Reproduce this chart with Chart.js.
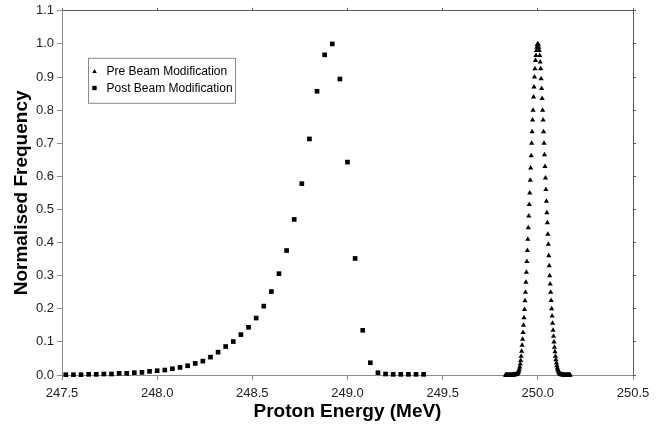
<!DOCTYPE html>
<html><head><meta charset="utf-8">
<script src="https://cdn.jsdelivr.net/npm/chart.js@4.4.0/dist/chart.umd.min.js"></script>
<style>html,body{margin:0;padding:0;background:#fff;overflow:hidden}canvas{display:block}</style>
</head><body>
<canvas id="c" width="658" height="427" style="width:658px;height:427px"></canvas>
<script>
// ---- data ----
const preLabel = 'Pre Beam Modification';
const postLabel = 'Post Beam Modification';

const preEnergy = [
249.83,249.8325,249.835,249.8375,249.84,249.8425,249.845,249.8475,249.85,249.8525,249.855,249.8575,249.86,249.8625,249.865,249.8675,249.87,249.8725,249.875,249.8775,
249.88,249.8825,249.885,249.8875,249.89,249.8925,249.895,249.8975,249.9,249.9025,249.905,249.9075,249.91,249.9125,249.915,249.9175,249.92,249.9225,249.925,249.9275,
249.93,249.9325,249.935,249.9375,249.94,249.9425,249.945,249.9475,249.95,249.9525,249.955,249.9575,249.96,249.9625,249.965,249.9675,249.97,249.9725,249.975,249.9775,
249.98,249.9825,249.985,249.9875,249.99,249.9925,249.995,249.9975,250,
250.0025,250.005,250.0075,250.01,250.0125,250.015,250.0175,250.02,250.0225,250.025,250.0275,250.03,250.0325,250.035,250.0375,250.04,250.0425,250.045,250.0475,250.05,
250.0525,250.055,250.0575,250.06,250.0625,250.065,250.0675,250.07,250.0725,250.075,250.0775,250.08,250.0825,250.085,250.0875,250.09,250.0925,250.095,250.0975,250.1,
250.1025,250.105,250.1075,250.11,250.1125,250.115,250.1175,250.12,250.1225,250.125,250.1275,250.13,250.1325,250.135,250.1375,250.14,250.1425,250.145,250.1475,250.15,
250.1525,250.155,250.1575,250.16,250.1625,250.165,250.1675,250.17];
const preFreq = [
0,0,0,0,0,0,0,0,0,
0.0001,0.0001,0.0001,0.0002,0.0002,0.0003,0.0003,0.0004,0.0005,0.0006,0.0008,
0.001,0.0012,0.0015,0.002,0.003,0.004,0.006,0.008,
0.012,0.017,0.024,0.033,0.044,0.057,0.072,0.09,
0.108,0.128,0.15,0.173,0.198,0.224,0.25,0.28,
0.31,0.343,0.376,0.41,0.445,0.48,0.515,0.55,
0.588,0.625,0.662,0.70,0.735,0.77,0.80,0.84,
0.87,0.90,0.925,0.95,0.965,0.98,0.99,0.998,
1.0,
0.998,0.99,0.98,0.965,0.945,0.925,0.895,0.865,
0.835,0.80,0.77,0.735,0.70,0.665,0.63,0.595,
0.56,0.525,0.49,0.46,0.425,0.395,0.36,0.33,
0.30,0.275,0.25,0.225,0.20,0.178,0.156,0.135,
0.117,0.10,0.084,0.07,0.057,0.046,0.036,0.028,
0.021,0.016,0.012,0.009,0.006,0.004,0.003,0.002,
0.0015,0.001,0.0008,0.0006,0.0005,0.0004,0.0003,0.0002,
0.0002,0.0001,0.0001,0.0001,0,0,0,0,
0,0,0,0];

const postEnergy = [247.52,247.56,247.6,247.64,247.68,247.72,247.76,247.8,247.84,247.88,
247.92,247.96,248,248.04,248.08,248.12,248.16,248.2,248.24,248.28,
248.32,248.36,248.4,248.44,248.48,248.52,248.56,248.6,248.64,248.68,
248.72,248.76,248.8,248.84,248.88,248.92,248.96,249,249.04,249.08,
249.12,249.16,249.2,249.24,249.28,249.32,249.36,249.4];
const postFreq = [0.001,0.001,0.001,0.002,0.002,0.003,0.003,0.005,0.005,0.007,
0.008,0.011,0.013,0.015,0.019,0.023,0.028,0.035,0.042,0.054,
0.069,0.086,0.101,0.122,0.144,0.172,0.208,0.252,0.306,0.376,
0.470,0.578,0.713,0.857,0.967,1.0,0.894,0.643,0.352,0.135,
0.037,0.007,0.003,0.002,0.002,0.002,0.002,0.002];

const xTicks = [247.5,248.0,248.5,249.0,249.5,250.0,250.5];
const yTicks = [0,0.1,0.2,0.3,0.4,0.5,0.6,0.7,0.8,0.9,1.0,1.1];
const xTitle = 'Proton Energy (MeV)';
const yTitle = 'Normalised Frequency';

// ---- chart ----
const FONT = "'Liberation Sans', Arial, sans-serif";
Chart.defaults.font.family = FONT;

function toPoints(xs, ys){ return xs.map((x,i)=>({x:x, y:ys[i]})); }
const setTicks = list => s => { s.ticks = list.map(v=>({value:v})); };

function drawMarker(ctx, style, x, y, r){
  ctx.beginPath();
  if (style === 'triangle') {
    ctx.moveTo(x, y - r);
    ctx.lineTo(x + r*0.95, y + r*0.7);
    ctx.lineTo(x - r*0.95, y + r*0.7);
    ctx.closePath();
  } else {
    ctx.rect(x - r*0.9, y - r*0.9, r*1.8, r*1.8);
  }
  ctx.fill();
}

const legendBox = {
  id: 'legendBox',
  afterDraw(chart){
    const ctx = chart.ctx, a = chart.chartArea;
    const x = a.left + 26, y = a.top + 47, w = 147, h = 45;
    ctx.save();
    ctx.fillStyle = '#fff';
    ctx.fillRect(x, y, w, h);
    ctx.strokeStyle = '#8a8a8a';
    ctx.lineWidth = 1;
    ctx.strokeRect(x + 0.5, y + 0.5, w, h);
    chart.data.datasets.forEach((ds, i) => {
      const cy = y + 13.5 + i * 16.7;
      ctx.fillStyle = '#000';
      drawMarker(ctx, ds.pointStyle, x + 6.5, cy, 2.4);
      ctx.font = '12px ' + FONT;
      ctx.textBaseline = 'middle';
      ctx.textAlign = 'left';
      ctx.fillText(ds.label, x + 18.5, cy + 0.5);
    });
    ctx.restore();
  }
};

new Chart(document.getElementById('c'), {
  type: 'scatter',
  data: {
    datasets: [
      { label: preLabel, data: toPoints(preEnergy, preFreq), pointStyle: 'triangle',
        pointRadius: 3, pointBorderWidth: 0, backgroundColor: '#000', borderColor: '#000',
        showLine: false, clip: false },
      { label: postLabel, data: toPoints(postEnergy, postFreq), pointStyle: 'rect',
        pointRadius: 3.3, pointBorderWidth: 0, backgroundColor: '#000', borderColor: '#000',
        showLine: false, clip: false }
    ]
  },
  options: {
    responsive: false,
    devicePixelRatio: 1,
    animation: false,
    layout: { padding: 0 },
    plugins: { legend: { display: false }, tooltip: { enabled: false } },
    scales: {
      x: {
        type: 'linear', position: 'bottom', min: 247.5, max: 250.5,
        afterBuildTicks: setTicks(xTicks),
        ticks: { callback: v => v.toFixed(1), color: '#222', font: { size: 13 }, padding: 6, maxRotation: 0, autoSkip: false },
        grid: { drawOnChartArea: false, tickLength: 5, color: '#8c8c8c' },
        border: { color: '#8c8c8c', width: 1 },
        title: { display: true, text: xTitle, color: '#000', font: { size: 19, weight: 'bold' }, padding: { top: 0, bottom: 4 } },
        afterFit: s => { s.height = 52; }
      },
      xTop: {
        type: 'linear', position: 'top', min: 247.5, max: 250.5,
        afterBuildTicks: setTicks(xTicks),
        ticks: { display: false },
        grid: { drawOnChartArea: false, tickLength: 3, color: '#5a5a5a' },
        border: { color: '#5a5a5a', width: 1 },
        afterFit: s => { s.height = 10; }
      },
      y: {
        type: 'linear', position: 'left', min: 0, max: 1.1,
        afterBuildTicks: setTicks(yTicks),
        ticks: { callback: v => v.toFixed(1), color: '#222', font: { size: 13 }, padding: 3 },
        grid: { drawOnChartArea: false, tickLength: 5, color: '#8c8c8c' },
        border: { color: '#8c8c8c', width: 1 },
        title: { display: true, text: yTitle, color: '#000', font: { size: 19, weight: 'bold' }, padding: { top: 10, bottom: 0 } },
        afterFit: s => { s.width = 62; }
      },
      yRight: {
        type: 'linear', position: 'right', min: 0, max: 1.1,
        afterBuildTicks: setTicks(yTicks),
        ticks: { display: false },
        grid: { drawOnChartArea: false, tickLength: 3, color: '#5a5a5a' },
        border: { color: '#5a5a5a', width: 1 },
        afterFit: s => { s.width = 25; }
      }
    }
  },
  plugins: [legendBox]
});
</script>
</body></html>
